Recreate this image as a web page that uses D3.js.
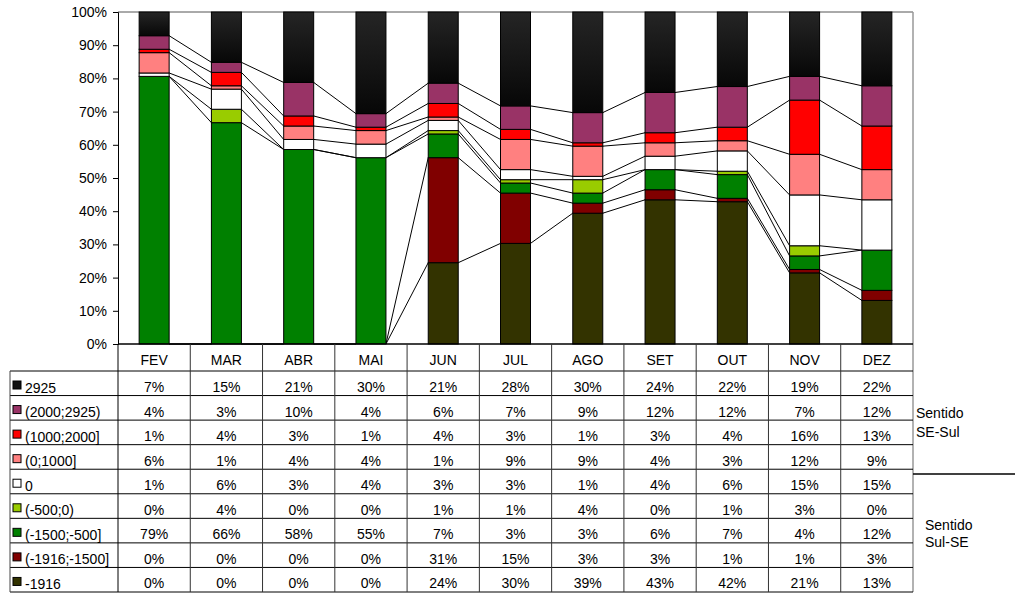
<!DOCTYPE html>
<html>
<head>
<meta charset="utf-8">
<script src="https://cdn.jsdelivr.net/npm/d3@7"></script>
<style>
  html, body { margin: 0; padding: 0; background: #fff; }
  svg { display: block; }
  text { font-family: "Liberation Sans", Arial, sans-serif; font-size: 14px; fill: #000; }
</style>
</head>
<body>
<svg id="chart" width="1018" height="593"></svg>
<script>
// Months (categories)
const months = ["FEV", "MAR", "ABR", "MAI", "JUN", "JUL", "AGO", "SET", "OUT", "NOV", "DEZ"];

// Flow ranges, in table order (top of the stack first)
const seriesNames = ["2925", "(2000;2925)", "(1000;2000]", "(0;1000]", "0", "(-500;0)", "(-1500;-500]", "(-1916;-1500]", "-1916"];
const seriesColors = ["url(#gradBlack)", "#993366", "#FF0000", "#FF8080", "#FFFFFF", "#99CC00", "#008000", "#800000", "#333300"];
const keyColors = ["#111111", "#993366", "#FF0000", "#FF8080", "#FFFFFF", "#99CC00", "#008000", "#800000", "#333300"];

// Percentage of time per range and month
const v2925      = [7, 15, 21, 30, 21, 28, 30, 24, 22, 19, 22];
const v2000_2925 = [4, 3, 10, 4, 6, 7, 9, 12, 12, 7, 12];
const v1000_2000 = [1, 4, 3, 1, 4, 3, 1, 3, 4, 16, 13];
const v0_1000    = [6, 1, 4, 4, 1, 9, 9, 4, 3, 12, 9];
const vZero      = [1, 6, 3, 4, 3, 3, 1, 4, 6, 15, 15];
const vM500_0    = [0, 4, 0, 0, 1, 1, 4, 0, 1, 3, 0];
const vM1500_500 = [79, 66, 58, 55, 7, 3, 3, 6, 7, 4, 12];
const vM1916_1500= [0, 0, 0, 0, 31, 15, 3, 3, 1, 1, 3];
const vM1916     = [0, 0, 0, 0, 24, 30, 39, 43, 42, 21, 13];

const seriesValues = [v2925, v2000_2925, v1000_2000, v0_1000, vZero, vM500_0, vM1500_500, vM1916_1500, vM1916];

const yTicks = d3.range(0, 1.0001, 0.1);

// Geometry
const plotLeft = 118, plotRight = 913, plotTop = 12, plotBottom = 344;
const headerBottom = 371, tableBottom = 592, tableLeft = 10;
const rowH = (tableBottom - headerBottom) / seriesNames.length;

const svg = d3.select("#chart");

const defs = svg.append("defs");
const grad = defs.append("linearGradient").attr("id", "gradBlack")
  .attr("x1", 0).attr("y1", 0).attr("x2", 0).attr("y2", 1);
grad.append("stop").attr("offset", "0%").attr("stop-color", "#252525");
grad.append("stop").attr("offset", "100%").attr("stop-color", "#070707");

// Build stack rows (bottom series first)
const rows = months.map((m, i) => {
  const r = { month: m };
  seriesNames.forEach((s, k) => { r[s] = seriesValues[k][i]; });
  return r;
});
const stackKeys = seriesNames.slice().reverse();
const stacked = d3.stack().keys(stackKeys).offset(d3.stackOffsetExpand)(rows);

const x = d3.scaleBand().domain(months).range([plotLeft, plotRight])
  .paddingInner(0.585).paddingOuter(0.2925);
const col = d3.scaleBand().domain(months).range([plotLeft, plotRight]);
const y = d3.scaleLinear().domain([0, 1]).range([plotBottom, plotTop]);

// Plot frame (top and right)
svg.append("line").attr("x1", plotLeft).attr("x2", plotRight).attr("y1", plotTop).attr("y2", plotTop)
  .attr("stroke", "#555").attr("stroke-width", 1);
svg.append("line").attr("x1", plotRight).attr("x2", plotRight).attr("y1", plotTop).attr("y2", tableBottom)
  .attr("stroke", "#999").attr("stroke-width", 1.5);

// Series lines joining the stack boundaries of neighbouring bars
const linesG = svg.append("g");
stacked.forEach(layer => {
  if (layer.key === seriesNames[0]) return;
  for (let i = 0; i < months.length - 1; i++) {
    linesG.append("line")
      .attr("x1", x(months[i]) + x.bandwidth()).attr("y1", y(layer[i][1]))
      .attr("x2", x(months[i + 1])).attr("y2", y(layer[i + 1][1]))
      .attr("stroke", "#000").attr("stroke-width", 1);
  }
});

// Bars
const colorOf = k => seriesColors[seriesNames.indexOf(k)];
svg.append("g").selectAll("g").data(stacked).join("g")
  .attr("fill", d => colorOf(d.key))
  .selectAll("rect").data(d => d).join("rect")
  .attr("x", d => x(d.data.month))
  .attr("width", x.bandwidth())
  .attr("y", d => y(d[1]))
  .attr("height", d => y(d[0]) - y(d[1]))
  .attr("stroke", d => (y(d[0]) - y(d[1])) > 0.01 ? "#000" : "none")
  .attr("stroke-width", 1);

// Y axis
const yAxis = svg.append("g").attr("transform", `translate(${plotLeft},0)`)
  .call(d3.axisLeft(y).tickValues(yTicks).tickFormat(d3.format(".0%")).tickSize(5).tickPadding(6));
yAxis.select(".domain").attr("stroke", "#000");
yAxis.selectAll(".tick line").attr("stroke", "#000");
yAxis.selectAll("text").style("font-family", "'Liberation Sans', Arial, sans-serif").style("font-size", "14px").attr("fill", "#000");

// X axis baseline
svg.append("line").attr("x1", plotLeft).attr("x2", plotRight).attr("y1", plotBottom).attr("y2", plotBottom)
  .attr("stroke", "#000").attr("stroke-width", 1.5);

// Data table
const tbl = svg.append("g");
// horizontal rules
d3.range(seriesNames.length + 1).forEach(r => {
  const yy = headerBottom + r * rowH;
  tbl.append("line").attr("x1", tableLeft).attr("x2", plotRight).attr("y1", yy).attr("y2", yy)
    .attr("stroke", "#000").attr("stroke-width", 1);
});
// vertical rules
tbl.append("line").attr("x1", tableLeft).attr("x2", tableLeft).attr("y1", headerBottom).attr("y2", tableBottom)
  .attr("stroke", "#444").attr("stroke-width", 1);
tbl.append("line").attr("x1", plotLeft).attr("x2", plotLeft).attr("y1", plotBottom).attr("y2", tableBottom)
  .attr("stroke", "#000").attr("stroke-width", 1);
months.slice(1).forEach(m => {
  tbl.append("line").attr("x1", col(m)).attr("x2", col(m)).attr("y1", plotBottom).attr("y2", tableBottom)
    .attr("stroke", "#333").attr("stroke-width", 1);
});
// month headers
tbl.selectAll("text.hdr").data(months).join("text").attr("class", "hdr")
  .attr("x", m => col(m) + col.bandwidth() / 2).attr("y", plotBottom + 21)
  .attr("text-anchor", "middle").text(m => m);
// row labels with colour keys
seriesNames.forEach((s, k) => {
  const top = headerBottom + k * rowH;
  tbl.append("rect").attr("x", 13).attr("y", top + 10).attr("width", 8).attr("height", 8)
    .attr("fill", keyColors[k]).attr("stroke", "#000").attr("stroke-width", 1);
  tbl.append("text").attr("x", 25).attr("y", top + 21.5).text(s);
  tbl.selectAll(null).data(seriesValues[k]).join("text")
    .attr("x", (d, i) => col(months[i]) + col.bandwidth() / 2)
    .attr("y", top + 21)
    .attr("text-anchor", "middle").text(d => d + "%");
});

// Direction notes on the right
const notes = svg.append("g");
notes.append("text").attr("x", 916).attr("y", 418).text("Sentido");
notes.append("text").attr("x", 916).attr("y", 437).text("SE-Sul");
notes.append("line").attr("x1", plotRight).attr("x2", 1015).attr("y1", 474).attr("y2", 474)
  .attr("stroke", "#000").attr("stroke-width", 1.5);
notes.append("text").attr("x", 925).attr("y", 530).text("Sentido");
notes.append("text").attr("x", 925).attr("y", 547).text("Sul-SE");
</script>
</body>
</html>
